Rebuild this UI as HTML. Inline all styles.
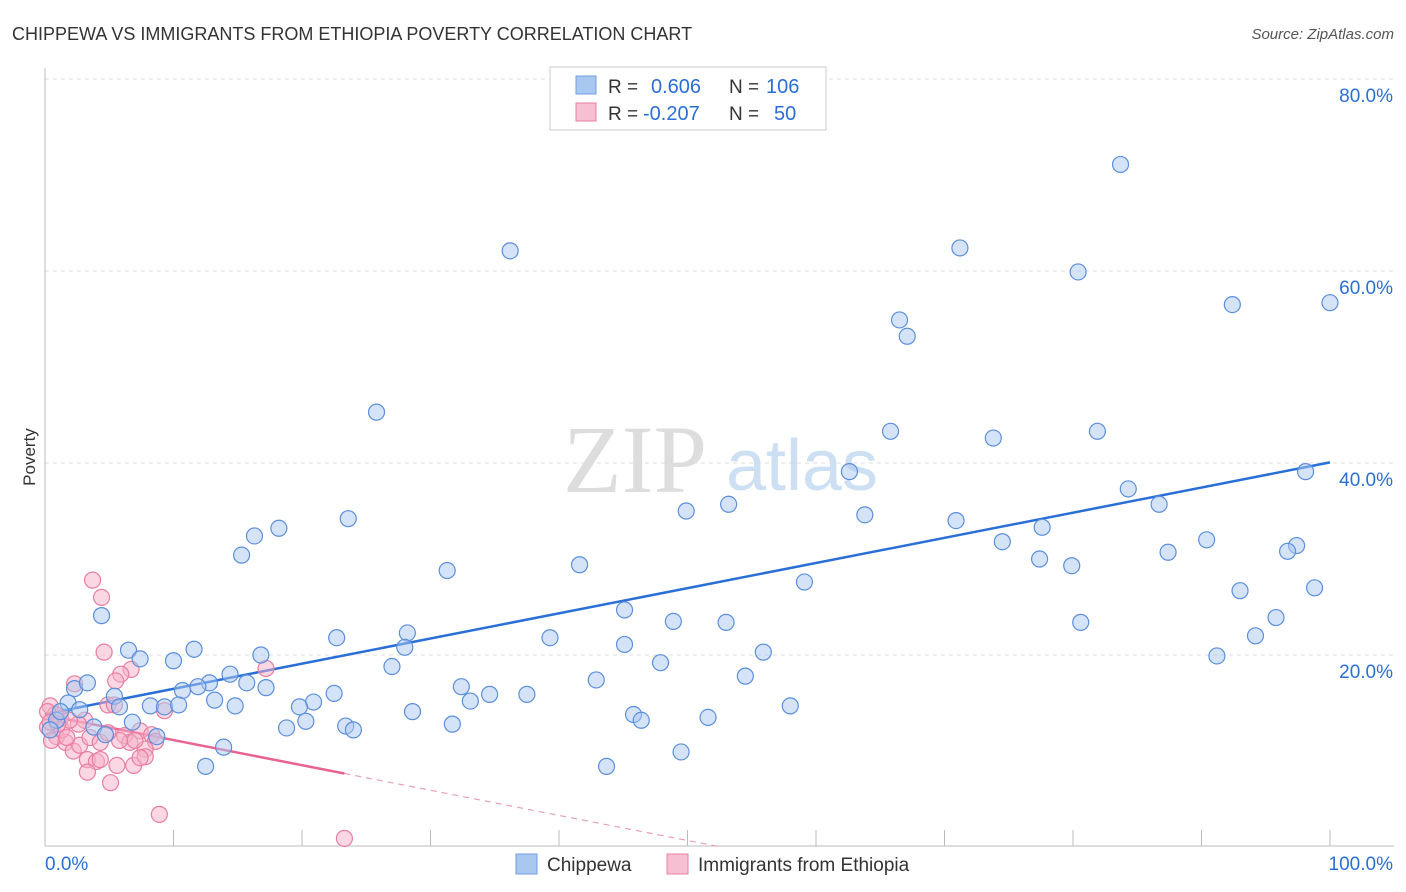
<!DOCTYPE html>
<html><head><meta charset="utf-8"><style>
html,body{margin:0;padding:0;background:#fff;width:1406px;height:892px;overflow:hidden;font-family:"Liberation Sans",sans-serif}
</style></head><body>
<svg id="chart" width="1406" height="892" xmlns="http://www.w3.org/2000/svg" font-family="Liberation Sans, sans-serif">
<text x="12" y="40" font-size="18" fill="#333">CHIPPEWA VS IMMIGRANTS FROM ETHIOPIA POVERTY CORRELATION CHART</text>
<text x="1394" y="39" font-size="15" fill="#555" text-anchor="end" font-style="italic">Source: ZipAtlas.com</text>
<text x="35" y="457" font-size="17" fill="#333" text-anchor="middle" transform="rotate(-90 35 457)">Poverty</text>
<g>
<text x="635" y="492" font-size="96" fill="#ddd" font-family="Liberation Serif, serif" text-anchor="middle">ZIP</text>
<text x="802" y="490" font-size="72" fill="#cddff2" text-anchor="middle">atlas</text>
</g>
<g id="grid"></g>
<g id="axes"></g>
<g id="trend"></g>
<g id="pts"></g>
<g>
<rect x="550" y="67" width="276" height="63" fill="#fff" stroke="#ccc"/>
<rect x="576" y="76" width="20" height="18" fill="#a9c8f0" stroke="#6f9fe0"/>
<text x="608" y="93" font-size="19" fill="#333">R =</text>
<text x="651" y="93" font-size="20" fill="#2a6fd6">0.606</text>
<text x="729" y="93" font-size="19" fill="#333">N =</text>
<text x="766" y="93" font-size="20" fill="#2a6fd6">106</text>
<rect x="576" y="103" width="20" height="18" fill="#f7c0d2" stroke="#e87fa0"/>
<text x="608" y="120" font-size="19" fill="#333">R =</text>
<text x="643" y="120" font-size="20" fill="#2a6fd6">-0.207</text>
<text x="729" y="120" font-size="19" fill="#333">N =</text>
<text x="774" y="120" font-size="20" fill="#2a6fd6">50</text>
</g>
<g>
<rect x="516" y="854" width="21" height="20" fill="#a9c8f0" stroke="#6f9fe0"/>
<text x="547" y="871" font-size="19" fill="#333">Chippewa</text>
<rect x="667" y="854" width="21" height="20" fill="#f7c0d2" stroke="#e87fa0"/>
<text x="698" y="871" font-size="19" fill="#333">Immigrants from Ethiopia</text>
</g>
</svg>
<script>
const blueX=[83.7,36.2,71.2,80.4,92.4,100,66.5,67.1,25.8,65.8,73.8,81.9,62.6,98.1,84.3,53.2,49.9,63.8,86.7,70.9,77.6,23.6,18.2,16.3,15.3,31.3,41.6,74.5,90.4,97.4,96.7,87.4,77.4,79.9,98.8,93.0,59.1,4.4,45.1,48.9,53.0,80.6,95.8,94.2,28.2,22.7,39.3,28.0,45.1,6.5,7.4,11.6,16.8,10.0,55.9,91.2,47.9,27.0,14.4,54.5,42.9,15.7,12.8,17.2,10.7,11.9,2.3,3.3,32.4,34.6,37.5,5.4,22.5,33.1,13.2,20.9,1.8,2.7,5.8,8.2,9.3,10.4,14.8,19.8,28.6,58.0,45.8,46.4,51.6,20.3,6.8,3.8,23.4,24.0,18.8,31.7,4.7,8.7,13.9,49.5,12.5,43.7,0.9,0.4,1.2];
const blueY=[71.1,62.1,62.4,59.9,56.5,56.7,54.9,53.2,45.3,43.3,42.6,43.3,39.1,39.1,37.3,35.7,35.0,34.6,35.7,34.0,33.3,34.2,33.2,32.4,30.4,28.8,29.4,31.8,32.0,31.4,30.8,30.7,30.0,29.3,27.0,26.7,27.6,24.1,24.7,23.5,23.4,23.4,23.9,22.0,22.3,21.8,21.8,20.8,21.1,20.5,19.6,20.6,20.0,19.4,20.3,19.9,19.2,18.8,18.0,17.8,17.4,17.1,17.1,16.6,16.3,16.7,16.5,17.1,16.7,15.9,15.9,15.7,16.0,15.2,15.3,15.1,15.0,14.3,14.6,14.7,14.6,14.8,14.7,14.6,14.1,14.7,13.8,13.2,13.5,13.1,13.0,12.5,12.6,12.2,12.4,12.8,11.7,11.5,10.4,9.9,8.4,8.4,13.2,12.2,14.1];
const pinkX=[3.7,4.4,4.6,6.7,5.9,5.5,2.3,4.9,0.4,5.4,9.3,17.2,1.2,3.1,2.6,7.4,6.2,8.3,0.9,1.6,6.6,8.6,7.8,2.2,3.3,4.0,4.3,5.6,6.9,3.3,5.1,8.9,23.3,0.2,0.5,1.3,1.9,0.8,0.2,7.8,7.0,2.7,1.7,3.5,4.3,5.8,7.4,1.0,0.4,4.9];
const pinkY=[27.8,26.0,20.3,18.5,18.0,17.3,17.0,14.8,14.7,14.8,14.2,18.6,13.4,13.2,12.8,12.1,11.6,11.7,11.5,10.9,10.9,11.0,10.2,10.0,9.1,8.9,9.1,8.5,8.5,7.8,6.7,3.4,0.9,12.5,11.1,12.2,13.2,13.8,14.1,9.4,11.1,10.6,11.4,11.4,10.9,11.1,9.3,12.8,13.0,11.9];
const xTicks=[0,10,20,30,40,50,60,70,80,90,100];
const yTicks=[20,40,60,80];
const yTickLabels=["20.0%","40.0%","60.0%","80.0%"];
const xEndLabels=["0.0%","100.0%"];
const NS="http://www.w3.org/2000/svg";
const X0=45,X1=1330,Y0=847,Y80=79;
function sx(v){return X0+(X1-X0)*v/100;}
function sy(v){return Y0-(Y0-Y80)*v/80;}
function mk(tag,attrs,parent){const e=document.createElementNS(NS,tag);for(const k in attrs)e.setAttribute(k,attrs[k]);parent.appendChild(e);return e;}
const grid=document.getElementById('grid'),axes=document.getElementById('axes'),trend=document.getElementById('trend'),pts=document.getElementById('pts');
yTicks.forEach((t,i)=>{
 const l=mk('line',{x1:45,x2:1394,y1:sy(t),y2:sy(t),stroke:'#ddd','stroke-dasharray':'4,4'},grid);
 
 
 const tx=mk('text',{x:1393,y:sy(t)+23,'font-size':19,fill:'#2a6fd6','text-anchor':'end'},axes);
 tx.textContent=yTickLabels[i];
 
 
});
const ya=mk('line',{x1:45,x2:45,y1:68,y2:846,stroke:'#bbb'},axes);


const xa=mk('line',{x1:45,x2:1394,y1:846,y2:846,stroke:'#bbb'},axes);


xTicks.forEach(t=>{
 const l=mk('line',{x1:sx(t),x2:sx(t),y1:830,y2:846,stroke:'#bbb'},axes);
 
 
});
const xl0=mk('text',{x:45,y:870,'font-size':19,fill:'#2a6fd6'},axes);xl0.textContent=xEndLabels[0];


const xl1=mk('text',{x:1393,y:870,'font-size':19,fill:'#2a6fd6','text-anchor':'end'},axes);xl1.textContent=xEndLabels[1];


function reg(xs,ys){const n=xs.length;let mx=0,my=0;for(let i=0;i<n;i++){mx+=xs[i];my+=ys[i];}mx/=n;my/=n;let a=0,b=0;for(let i=0;i<n;i++){a+=(xs[i]-mx)*(ys[i]-my);b+=(xs[i]-mx)**2;}const s=a/b;return {s:s,c:my-s*mx,max:Math.max(...xs)};}
function drawPts(xs,ys,fill,stroke,name){
 for(let i=0;i<xs.length;i++){
  const c=mk('circle',{cx:sx(xs[i]),cy:sy(ys[i]),r:8,fill:fill,'fill-opacity':0.5,stroke:stroke,'stroke-width':1.2},pts);
  
  
 }
}
drawPts(pinkX,pinkY,'#f5b0c8','#e87fa0','point-ethiopia');
drawPts(blueX,blueY,'#a9c8f0','#5b8fdc','point-chippewa');
const rb=reg(blueX,blueY);
const bl=mk('line',{x1:sx(0),y1:sy(rb.c),x2:sx(100),y2:sy(rb.c+rb.s*100),stroke:'#2a6fd6','stroke-width':2.5},trend);


const rp=reg(pinkX,pinkY);
const xe=rp.max;
const pl=mk('line',{x1:sx(0),y1:sy(rp.c),x2:sx(xe),y2:sy(rp.c+rp.s*xe),stroke:'#e8648f','stroke-width':2.5},trend);


let xz=rp.s<0?Math.min(100,-rp.c/rp.s):100;
const pd=mk('line',{x1:sx(xe),y1:sy(rp.c+rp.s*xe),x2:sx(xz),y2:sy(rp.c+rp.s*xz),stroke:'#e8a0b8','stroke-width':1.2,'stroke-dasharray':'6,5'},trend);


</script>
</body></html>
